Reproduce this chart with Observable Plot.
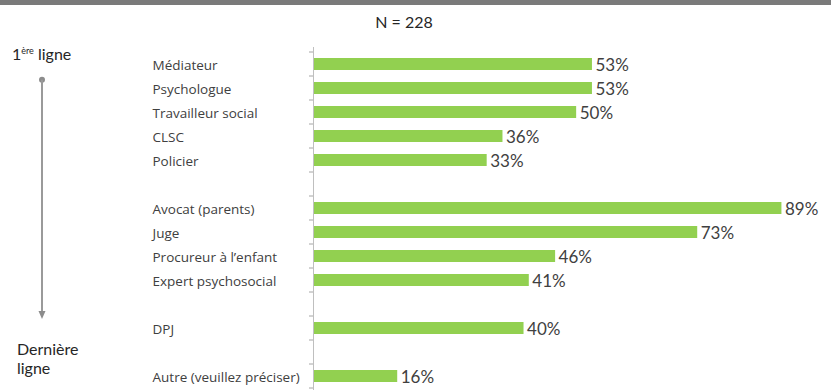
<!DOCTYPE html>
<html><head><meta charset="utf-8">
<script src="https://cdn.jsdelivr.net/npm/d3@7"></script>
<script src="https://cdn.jsdelivr.net/npm/@observablehq/plot@0.6"></script>
<style>
html,body{margin:0;padding:0;background:#fff;overflow:hidden;}
#chart svg{display:block;font-family:Lato,"Open Sans",sans-serif;}
</style></head>
<body><div id="chart"></div>
<script>
const title = "N = 228";
const names = ["Médiateur","Psychologue","Travailleur social","CLSC","Policier",
  "Avocat (parents)","Juge","Procureur à l’enfant","Expert psychosocial","DPJ","Autre (veuillez préciser)"];
const values = [53,53,50,36,33,89,73,46,41,40,16];
// order of rows, blank strings are empty separator rows
const rowOrder = ["Médiateur","Psychologue","Travailleur social","CLSC","Policier"," ",
  "Avocat (parents)","Juge","Procureur à l’enfant","Expert psychosocial","  ","DPJ","   ","Autre (veuillez préciser)"];
const topLabel = ["1", "ère", " ligne"];
const bottomLabel = ["Dernière", "ligne"];

const data = names.map((n, i) => ({name: n, value: values[i]}));
const textColor = "#404040";

function decorations(index, scales, values, dim) {
  const g = d3.create("svg:g").attr("text-anchor", "start");
  const y = scales.y;
  const step = y.step(), bw = y.bandwidth();
  const x0 = scales.x(0);
  // top band
  g.append("rect").attr("x", 0).attr("y", 0).attr("width", dim.width).attr("height", 5).attr("fill", "#7a7a7a");
  // title
  g.append("text").attr("x", 404).attr("y", 28).attr("text-anchor", "middle")
    .attr("font-size", 16).attr("fill", "#262626").text(title);
  // boundary ticks on the axis
  const dom = y.domain();
  const bounds = dom.map(d => y(d) + bw / 2 - step / 2);
  bounds.push(bounds[bounds.length - 1] + step);
  for (const b of bounds) {
    g.append("line").attr("x1", x0 - 4).attr("x2", x0).attr("y1", b).attr("y2", b)
      .attr("stroke", "#a6a6a6").attr("stroke-width", 1);
  }
  // left annotation
  const t = g.append("text").attr("x", 12).attr("y", 60).attr("font-size", 16).attr("fill", "#262626");
  t.append("tspan").text(topLabel[0]);
  t.append("tspan").attr("dy", -6).attr("font-size", 9).text(topLabel[1]);
  t.append("tspan").attr("dy", 6).text(topLabel[2]);
  const yTop = y(dom[0]) + bw / 2 + step * 0.66;
  const yEnd = 319;
  g.append("circle").attr("cx", 42).attr("cy", yTop).attr("r", 3).attr("fill", "#8c8c8c");
  g.append("line").attr("x1", 42).attr("x2", 42).attr("y1", yTop).attr("y2", yEnd - 6)
    .attr("stroke", "#9a9a9a").attr("stroke-width", 2);
  g.append("path").attr("d", `M38.5,${yEnd - 8}L45.5,${yEnd - 8}L42,${yEnd}Z`).attr("fill", "#8c8c8c");
  const b = g.append("text").attr("font-size", 16).attr("fill", "#262626");
  b.append("tspan").attr("x", 17).attr("y", 355).text(bottomLabel[0]);
  b.append("tspan").attr("x", 17).attr("y", 374).text(bottomLabel[1]);
  return g.node();
}

const chart = Plot.plot({
  width: 831,
  height: 390,
  marginLeft: 313,
  marginRight: 18,
  marginTop: 47,
  marginBottom: 0,
  x: {domain: [0, 95], axis: null},
  y: {domain: rowOrder, range: [47, 393.5], paddingInner: 0.5, paddingOuter: 0.25, axis: null},
  marks: [
    Plot.ruleX([0], {stroke: "#bfbfbf"}),
    Plot.barX(data, {x: "value", y: "name", fill: "#92D050", insetLeft: 1}),
    Plot.text(data, {x: "value", y: "name", text: d => d.value + "%", textAnchor: "start",
      dx: 3, dy: 1, fontSize: 17, fill: textColor}),
    Plot.text(data, {y: "name", text: "name", frameAnchor: "left", textAnchor: "start",
      dx: -161, dy: 1.5, fontSize: 13.5, fontFamily: "Open Sans", fill: textColor}),
    decorations
  ]
});
document.getElementById("chart").appendChild(chart);
</script>
</body></html>
